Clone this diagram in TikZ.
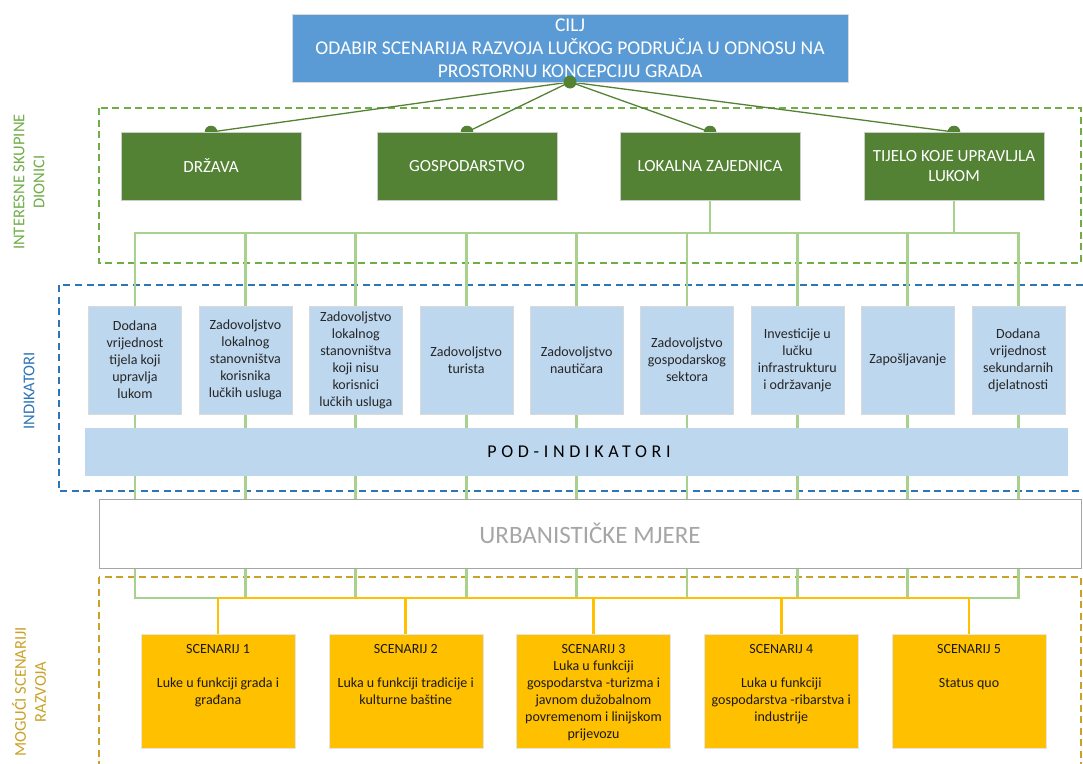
\documentclass[tikz,border=0pt]{standalone}
\usepackage{fontspec}
\setmainfont{Carlito}
\usetikzlibrary{positioning, calc}
\definecolor{cilj_blue}{HTML}{5B9BD5}
\definecolor{dion_green}{HTML}{548235}
\definecolor{lab_green}{HTML}{70AD47}
\definecolor{lite_green}{HTML}{A9D18E}
\definecolor{ind_blue}{HTML}{BDD7EE}
\definecolor{frame_blue}{HTML}{2E75B6}
\definecolor{scen_gold}{HTML}{FFC000}
\definecolor{frame_gold}{HTML}{C9A227}
\definecolor{urb_grey}{HTML}{A6A6A6}
\tikzset{
  cilj/.style={rectangle,fill=cilj_blue,draw=black!15,text=white,inner sep=0,outer sep=0,minimum width=556pt,minimum height=68pt,align=center,font=\fontsize{19.5}{23}\selectfont},
  dionik/.style={rectangle,fill=dion_green,draw=black!20,text=white,inner sep=0,outer sep=0,minimum width=180pt,minimum height=68pt,align=center,font=\fontsize{17}{20}\selectfont},
  indik/.style={rectangle,fill=ind_blue,draw=black!15,text=black!85,inner sep=0,outer sep=0,minimum width=93pt,minimum height=108pt,align=center,font=\fontsize{14}{17}\selectfont},
  podind/.style={rectangle,fill=ind_blue,inner sep=0,minimum width=983pt,minimum height=48pt,font=\fontsize{18}{22}\selectfont\addfontfeature{LetterSpace=26}},
  urbmj/.style={rectangle,fill=white,draw=urb_grey,thick,text=urb_grey,inner sep=0,minimum width=982pt,minimum height=69pt,font=\fontsize{25}{30}\selectfont},
  scenbox/.style={rectangle,fill=scen_gold,draw=black!10,text=black!90,inner sep=0,outer sep=0,minimum width=154pt,minimum height=114pt,font=\fontsize{14}{17}\selectfont},
  okvir/.style={line width=1.1pt,dash pattern=on 7pt off 4.5pt},
  spoke/.style={dion_green,line width=1.3pt},
  stem/.style={lite_green,line width=2.7pt},
  goldstem/.style={scen_gold,line width=2.7pt},
  grplabel/.style={rotate=90,align=center,font=\fontsize{16.5}{20}\selectfont},
}
\pgfdeclarelayer{back}
\pgfsetlayers{back,main}
\newcommand{\scenarij}[1]{\parbox[c][94pt][t]{150pt}{\centering #1}}

\begin{document}
\begin{tikzpicture}[x=1pt,y=-1pt]
  \useasboundingbox (0,0) rectangle (1083,763);
  % cilj
  \node[cilj] (CILJ) at (570,48) {CILJ\\ODABIR SCENARIJA RAZVOJA LUČKOG PODRUČJA U ODNOSU NA\\PROSTORNU KONCEPCIJU GRADA};
  % dionici
  \node[dionik] (DRZ) at (211,166) {DRŽAVA};
  \node[dionik] (GOS) at (467,166) {GOSPODARSTVO};
  \node[dionik] (LOK) at (710,166) {LOKALNA ZAJEDNICA};
  \node[dionik] (TIJ) at (954,166) {TIJELO KOJE UPRAVLJLA\\LUKOM};
  % indikatori
  \node[indik] (I1) at (135,360) {Dodana\\vrijednost\\tijela koji\\upravlja\\lukom};
  \node[indik,right=17.4pt of I1] (I2) {Zadovoljstvo\\lokalnog\\stanovništva\\korisnika\\lučkih usluga};
  \node[indik,right=17.4pt of I2] (I3) {Zadovoljstvo\\lokalnog\\stanovništva\\koji nisu\\korisnici\\lučkih usluga};
  \node[indik,right=17.4pt of I3] (I4) {Zadovoljstvo\\turista};
  \node[indik,right=17.4pt of I4] (I5) {Zadovoljstvo\\nautičara};
  \node[indik,right=17.4pt of I5] (I6) {Zadovoljstvo\\gospodarskog\\sektora};
  \node[indik,right=17.4pt of I6] (I7) {Investicije u\\lučku\\infrastrukturu\\i održavanje};
  \node[indik,right=17.4pt of I7] (I8) {Zapošljavanje};
  \node[indik,right=17.4pt of I8] (I9) {Dodana\\vrijednost\\sekundarnih\\djelatnosti};
  \node[podind] (POD) at (576.5,452) {\kern5pt POD-INDIKATORI};
  \node[urbmj] (URB) at (590,533.5) {URBANISTIČKE MJERE};
  % scenariji
  \node[scenbox] (S1) at (218,691) {\scenarij{SCENARIJ 1\\[17pt]Luke u funkciji grada i\\građana}};
  \node[scenbox,right=33.75pt of S1] (S2) {\scenarij{SCENARIJ 2\\[17pt]Luka u funkciji tradicije i\\kulturne baštine}};
  \node[scenbox,right=33.75pt of S2] (S3) {\scenarij{SCENARIJ 3\\Luka u funkciji\\gospodarstva -turizma i\\javnom dužobalnom\\povremenom i linijskom\\prijevozu}};
  \node[scenbox,right=33.75pt of S3] (S4) {\scenarij{SCENARIJ 4\\[17pt]Luka u funkciji\\gospodarstva -ribarstva i\\industrije}};
  \node[scenbox,right=33.75pt of S4] (S5) {\scenarij{SCENARIJ 5\\[17pt]Status quo}};
  % oznake skupina
  \node[grplabel,text=lab_green] (LDION) at (29,182) {INTERESNE SKUPINE\\DIONICI};
  \node[grplabel,text=frame_blue] (LIND) at (29,391) {INDIKATORI};
  \node[grplabel,text=frame_gold] (LSCEN) at (29,692) {MOGUĆI SCENARIJI\\RAZVOJA};

  \coordinate (GTOP) at (0,233);
  \coordinate (GBOT) at (0,598);
  \begin{pgfonlayer}{back}
    \draw[okvir,draw=lab_green] (99,108) rectangle (1081,263);
    \draw[okvir,draw=frame_blue] (59,285) rectangle (1095,491);
    \draw[okvir,draw=frame_gold] (99,577) rectangle (1081,780);
    \draw[stem] (LOK.south) -- (LOK.south |- GTOP);
    \draw[stem] (TIJ.south) -- (TIJ.south |- GTOP);
    \draw[stem] (I1 |- GBOT) -- (I1 |- GTOP) -- (I9 |- GTOP) -- (I9 |- GBOT) -- cycle;
    \foreach \n in {2,...,8}
      \draw[stem] (I\n |- GTOP) -- (I\n |- GBOT);
    \draw[goldstem] (S1 |- GBOT) -- (S5 |- GBOT);
    \foreach \n in {1,...,5}
      \draw[goldstem] (S\n |- GBOT) -- (S\n.north);
    \foreach \d in {DRZ,GOS,LOK,TIJ} {
      \draw[spoke] (CILJ.south) -- (\d.north);
      \fill[dion_green] (\d.north) circle (6.3pt);
    }
  \end{pgfonlayer}
  \fill[dion_green] (CILJ.south) circle (6.5pt);
\end{tikzpicture}
\end{document}
